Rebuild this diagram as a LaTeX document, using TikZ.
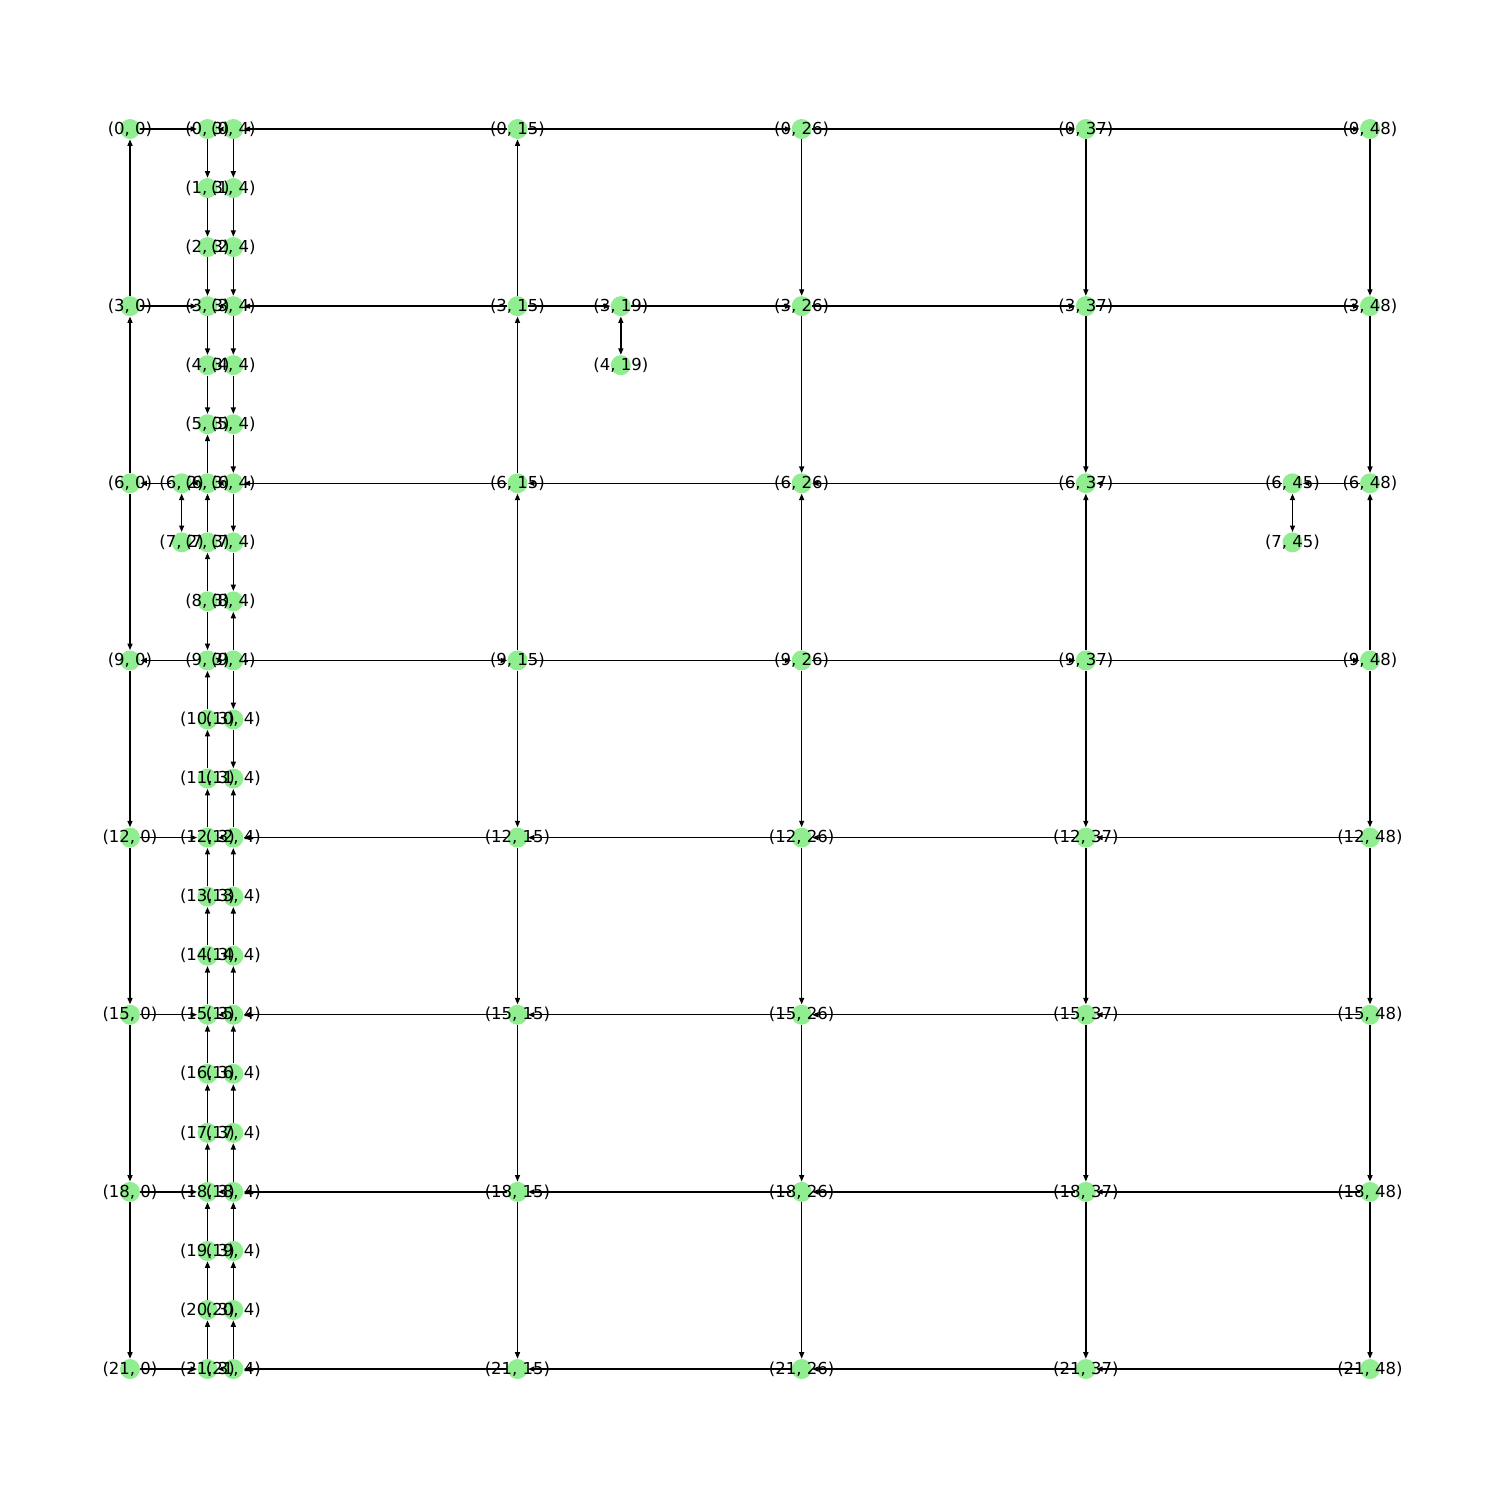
\documentclass[tikz,border=0pt]{standalone}
\usepackage{fontspec}
\setmainfont{DejaVu Sans}
\usetikzlibrary{arrows.meta}
\pgfdeclarelayer{bg}
\pgfdeclarelayer{mid}
\pgfsetlayers{bg,mid,main}
\definecolor{nodegreen}{RGB}{144,238,144}
\newcommand{\Vx}[2]{%
  \begin{pgfonlayer}{mid}\node[vtx] (n#1-#2) at ({130+#2*25.833},{129+#1*59.05}) {};\end{pgfonlayer}%
  \node[lbl] (t#1-#2) at (n#1-#2) {(#1, #2)};}
\newcommand{\Ed}[4]{\draw[arr] (n#1-#2) -- (n#3-#4);}
\newcommand{\Eb}[4]{\draw[arrb] (n#1-#2) -- (n#3-#4);}
\tikzset{
  vtx/.style={circle, fill=nodegreen, draw=none, minimum size=0.4cm, inner sep=0pt},
  lbl/.style={font=\fontsize{9.4}{11}\selectfont, inner sep=0pt, text=black},
  arr/.style={draw=black, line width=0.79pt, -{Triangle[length=0.13cm,width=0.1cm]}},
  arrb/.style={draw=black, line width=0.79pt, {Triangle[length=0.13cm,width=0.1cm]}-{Triangle[length=0.13cm,width=0.1cm]}}
}
\begin{document}
\begin{tikzpicture}[x=0.02cm,y=-0.02cm]
\useasboundingbox (0,0) rectangle (1500,1500);
% vertices
\foreach \r in {0,3,6,9,12,15,18,21} {
  \Vx{\r}{0}
  \Vx{\r}{15}
  \Vx{\r}{26}
  \Vx{\r}{37}
  \Vx{\r}{48}
}
\foreach \r in {0,...,21} {
  \Vx{\r}{3}
  \Vx{\r}{4}
}
\Vx{6}{2}\Vx{7}{2}
\Vx{3}{19}\Vx{4}{19}
\Vx{6}{45}\Vx{7}{45}
% edges
\begin{pgfonlayer}{bg}
% column 0
\Ed{3}{0}{0}{0}
\Ed{6}{0}{3}{0}
\Ed{6}{0}{9}{0}
\Ed{9}{0}{12}{0}
\Ed{12}{0}{15}{0}
\Ed{15}{0}{18}{0}
\Ed{18}{0}{21}{0}
% column 3
\foreach \r [evaluate=\r as \s using int(\r+1)] in {0,...,4} {\Ed{\r}{3}{\s}{3}}
\Ed{6}{3}{5}{3}
\Ed{7}{3}{6}{3}
\Ed{8}{3}{7}{3}
\Ed{8}{3}{9}{3}
\foreach \r [evaluate=\r as \s using int(\r+1)] in {9,...,20} {\Ed{\s}{3}{\r}{3}}
% column 4
\foreach \r [evaluate=\r as \s using int(\r+1)] in {0,...,7} {\Ed{\r}{4}{\s}{4}}
\Ed{9}{4}{8}{4}
\Ed{9}{4}{10}{4}
\Ed{10}{4}{11}{4}
\foreach \r [evaluate=\r as \s using int(\r+1)] in {11,...,20} {\Ed{\s}{4}{\r}{4}}
% short ones
\Eb{6}{2}{7}{2}
\Eb{3}{19}{4}{19}
\Eb{6}{45}{7}{45}
% column 15
\Ed{3}{15}{0}{15}
\Ed{6}{15}{3}{15}
\Ed{9}{15}{6}{15}
\Ed{9}{15}{12}{15}
\Ed{12}{15}{15}{15}
\Ed{15}{15}{18}{15}
\Ed{18}{15}{21}{15}
% columns 26, 37, 48
\foreach \c in {26,37,48} {
  \Ed{0}{\c}{3}{\c}
  \Ed{3}{\c}{6}{\c}
  \Ed{9}{\c}{6}{\c}
  \Ed{9}{\c}{12}{\c}
  \Ed{12}{\c}{15}{\c}
  \Ed{15}{\c}{18}{\c}
  \Ed{18}{\c}{21}{\c}
}
% row 0
\Ed{0}{0}{0}{3}
\Ed{0}{4}{0}{3}
\Ed{0}{15}{0}{4}
\Ed{0}{15}{0}{26}
\Ed{0}{26}{0}{37}
\Ed{0}{37}{0}{48}
% row 3
\Ed{3}{0}{3}{3}
\Ed{3}{4}{3}{3}
\Ed{3}{15}{3}{4}
\Ed{3}{15}{3}{19}
\Ed{3}{19}{3}{26}
\Ed{3}{26}{3}{37}
\Ed{3}{37}{3}{48}
% row 6
\Ed{6}{2}{6}{0}
\Ed{6}{3}{6}{2}
\Ed{6}{4}{6}{3}
\Ed{6}{15}{6}{4}
\Ed{6}{26}{6}{15}
\Ed{6}{37}{6}{26}
\Ed{6}{45}{6}{37}
\Ed{6}{48}{6}{45}
% row 9
\Ed{9}{3}{9}{0}
\Ed{9}{3}{9}{4}
\Ed{9}{4}{9}{15}
\Ed{9}{15}{9}{26}
\Ed{9}{26}{9}{37}
\Ed{9}{37}{9}{48}
% rows 12, 15, 18, 21
\foreach \r in {12,15,18,21} {
  \Ed{\r}{0}{\r}{3}
  \Ed{\r}{4}{\r}{3}
  \Ed{\r}{15}{\r}{4}
  \Ed{\r}{26}{\r}{15}
  \Ed{\r}{37}{\r}{26}
  \Ed{\r}{48}{\r}{37}
}
\end{pgfonlayer}
\end{tikzpicture}
\end{document}
